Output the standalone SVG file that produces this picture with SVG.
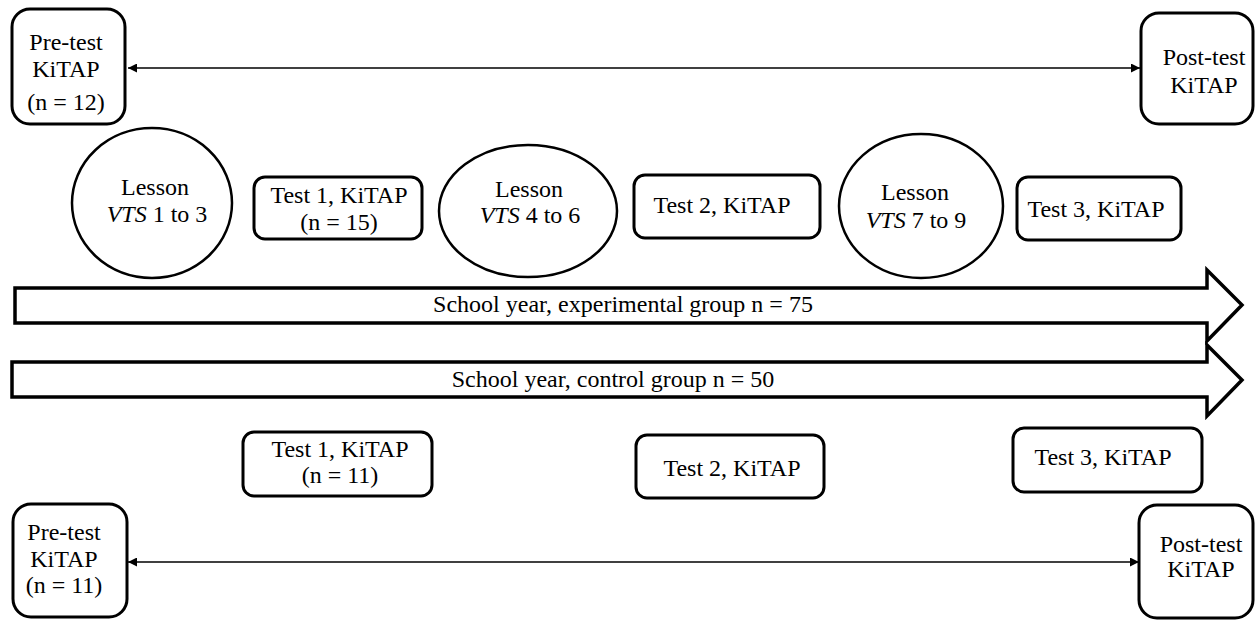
<svg xmlns="http://www.w3.org/2000/svg" width="1255" height="620" viewBox="0 0 1255 620">
<style>
text{font-family:"Liberation Serif","Times New Roman",serif;font-size:24px;fill:#000;text-anchor:middle}
.box{fill:#fff;stroke:#000;stroke-width:3}
.ell{fill:#fff;stroke:#000;stroke-width:2.5}
.big{fill:#fff;stroke:#000;stroke-width:3.5;stroke-linejoin:miter}
.line{stroke:#000;stroke-width:1.5;fill:none}
</style>
<defs>
<marker id="ah" viewBox="0 0 10 10" refX="10" refY="5" markerWidth="9" markerHeight="9" markerUnits="userSpaceOnUse" orient="auto-start-reverse">
<path d="M0,0 L10,5 L0,10 Z" fill="#000"/>
</marker>
</defs>
<rect width="1255" height="620" fill="#fff"/>

<g id="connectors">
<line class="line" x1="128" y1="68" x2="1140" y2="68" marker-start="url(#ah)" marker-end="url(#ah)"/>
<line class="line" x1="128" y1="562" x2="1139" y2="562" marker-start="url(#ah)" marker-end="url(#ah)"/>
</g>

<g id="pretest-exp">
<rect class="box" x="12" y="9" width="113" height="115" rx="18"/>
<text x="66" y="50">Pre-test</text>
<text x="66" y="77">KiTAP</text>
<text x="66" y="110">(n = 12)</text>
</g>
<g id="posttest-exp">
<rect class="box" x="1141" y="13" width="112" height="111" rx="18"/>
<text x="1204" y="65">Post-test</text>
<text x="1204" y="93">KiTAP</text>
</g>

<g id="lesson1">
<ellipse class="ell" cx="152" cy="203" rx="80" ry="75"/>
<text x="155" y="195">Lesson</text>
<text x="157" y="222"><tspan font-style="italic">VTS</tspan> 1 to 3</text>
</g>
<g id="test1-exp">
<rect class="box" x="254" y="177" width="168" height="62" rx="11"/>
<text x="339" y="203">Test 1, KiTAP</text>
<text x="339" y="230">(n = 15)</text>
</g>
<g id="lesson2">
<ellipse class="ell" cx="528" cy="211" rx="89" ry="66"/>
<text x="529" y="197">Lesson</text>
<text x="530" y="223"><tspan font-style="italic">VTS</tspan> 4 to 6</text>
</g>
<g id="test2-exp">
<rect class="box" x="634" y="175" width="186" height="63" rx="11"/>
<text x="722" y="213">Test 2, KiTAP</text>
</g>
<g id="lesson3">
<ellipse class="ell" cx="921" cy="206" rx="82" ry="72"/>
<text x="915" y="200">Lesson</text>
<text x="916" y="228"><tspan font-style="italic">VTS</tspan> 7 to 9</text>
</g>
<g id="test3-exp">
<rect class="box" x="1017" y="177" width="164" height="63" rx="11"/>
<text x="1096" y="217">Test 3, KiTAP</text>
</g>

<g id="year-exp">
<polygon class="big" points="15,288 1207,288 1207,270 1242,305 1207,341 1207,323 15,323"/>
<text x="623" y="312">School year, experimental group n = 75</text>
</g>
<g id="year-ctrl">
<polygon class="big" points="12,362 1207,362 1207,345 1242,380 1207,416 1207,397 12,397"/>
<text x="613" y="387">School year, control group n = 50</text>
</g>

<g id="test1-ctrl">
<rect class="box" x="243" y="432" width="189" height="64" rx="11"/>
<text x="340" y="457">Test 1, KiTAP</text>
<text x="340" y="483">(n = 11)</text>
</g>
<g id="test2-ctrl">
<rect class="box" x="636" y="435" width="188" height="63" rx="11"/>
<text x="732" y="476">Test 2, KiTAP</text>
</g>
<g id="test3-ctrl">
<rect class="box" x="1013" y="428" width="189" height="64" rx="11"/>
<text x="1103" y="465">Test 3, KiTAP</text>
</g>

<g id="pretest-ctrl">
<rect class="box" x="13" y="504" width="114" height="113" rx="18"/>
<text x="64" y="540">Pre-test</text>
<text x="64" y="567">KiTAP</text>
<text x="64" y="593">(n = 11)</text>
</g>
<g id="posttest-ctrl">
<rect class="box" x="1139" y="505" width="114" height="113" rx="18"/>
<text x="1201" y="552">Post-test</text>
<text x="1201" y="577">KiTAP</text>
</g>
</svg>
